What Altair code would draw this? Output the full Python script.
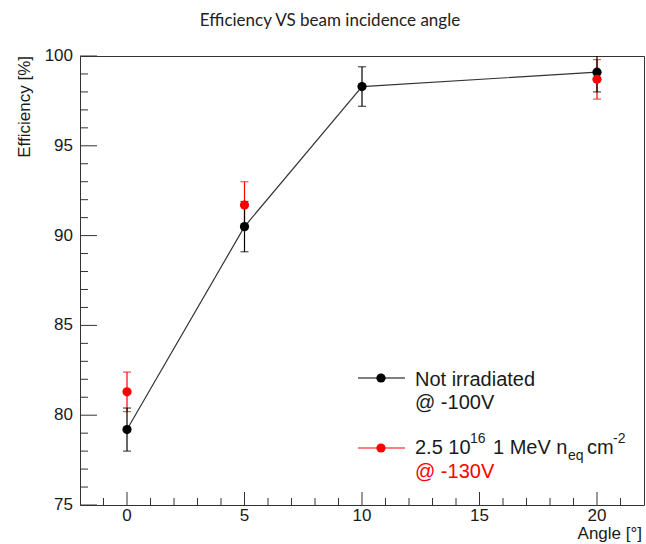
import altair as alt
import pandas as pd

# ---- data ----
angle_black = [0, 5, 10, 20]
eff_black = [79.2, 90.5, 98.3, 99.1]
lo_black = [78.0, 89.1, 97.2, 98.0]
hi_black = [80.4, 91.9, 99.4, 100.2]

angle_red = [0, 5, 20]
eff_red = [81.3, 91.7, 98.7]
lo_red = [80.2, 90.4, 97.6]
hi_red = [82.4, 93.0, 99.8]

y_major = [75, 80, 85, 90, 95, 100]
y_minor = [76, 77, 78, 79, 81, 82, 83, 84, 86, 87, 88, 89, 91, 92, 93, 94, 96, 97, 98, 99]
x_major = [0, 5, 10, 15, 20]
x_minor = [-1, 1, 2, 3, 4, 6, 7, 8, 9, 11, 12, 13, 14, 16, 17, 18, 19, 21]

title_text = "Efficiency VS beam incidence angle"
x_title = "Angle [°]"
y_title = "Efficiency [%]"

W, H = 564, 449
FONT = "Liberation Sans"
AX = "#333333"
TXT = "#1a1a1a"

black = pd.DataFrame({"angle": angle_black, "eff": eff_black, "lo": lo_black, "hi": hi_black})
red = pd.DataFrame({"angle": angle_red, "eff": eff_red, "lo": lo_red, "hi": hi_red})

xs = alt.Scale(domain=[-2, 22], nice=False, zero=False)
ys = alt.Scale(domain=[75, 100], nice=False, zero=False)

X = lambda f: alt.X(f, scale=xs, axis=None)
Y = lambda f: alt.Y(f, scale=ys, axis=None)

line = alt.Chart(black).mark_line(color="#333333", strokeWidth=1.2).encode(
    x=X("angle:Q"), y=Y("eff:Q"))

def errbars(df, color):
    bar = alt.Chart(df).mark_rule(color=color, strokeWidth=1.2, clip=True).encode(
        x=X("angle:Q"), y=Y("lo:Q"), y2="hi:Q")
    cap_lo = alt.Chart(df).mark_tick(color=color, orient="horizontal", size=8, thickness=1.2, clip=True).encode(
        x=X("angle:Q"), y=Y("lo:Q"))
    cap_hi = alt.Chart(df).mark_tick(color=color, orient="horizontal", size=8, thickness=1.2, clip=True).encode(
        x=X("angle:Q"), y=Y("hi:Q"))
    return [bar, cap_lo, cap_hi]

def points(df, color):
    return alt.Chart(df).mark_circle(color=color, size=85, opacity=1).encode(
        x=X("angle:Q"), y=Y("eff:Q"))

# inner ticks
def yticks(vals, length):
    return alt.Chart(pd.DataFrame({"v": vals})).mark_rule(color=AX, strokeWidth=1).encode(
        y=Y("v:Q"), x=alt.value(0), x2=alt.value(length))

def xticks(vals, length):
    return alt.Chart(pd.DataFrame({"v": vals})).mark_rule(color=AX, strokeWidth=1).encode(
        x=X("v:Q"), y=alt.value(H), y2=alt.value(H - length))

# tick labels through the scales
ylabels = alt.Chart(pd.DataFrame({"v": y_major})).mark_text(
    font=FONT, fontSize=17, color=TXT, align="right", baseline="middle").encode(
    y=Y("v:Q"), x=alt.value(-7), text=alt.Text("v:Q", format="d"))
xlabels = alt.Chart(pd.DataFrame({"v": x_major})).mark_text(
    font=FONT, fontSize=17, color=TXT, align="center", baseline="alphabetic").encode(
    x=X("v:Q"), y=alt.value(H + 16), text=alt.Text("v:Q", format="d"))

one = pd.DataFrame({"a": [0]})

def txt(s, x, y, size=20, color=TXT, font=FONT, align="left", angle=0, baseline="alphabetic"):
    return alt.Chart(one).mark_text(text=s, font=font, fontSize=size, color=color,
                                    align=align, baseline=baseline, angle=angle).encode(
        x=alt.value(x), y=alt.value(y))

def leg_line(color, y):
    r = alt.Chart(one).mark_rule(color=color, strokeWidth=1.2).encode(
        x=alt.value(278), x2=alt.value(325), y=alt.value(y))
    p = alt.Chart(one).mark_circle(color=color, size=85, opacity=1).encode(
        x=alt.value(301), y=alt.value(y))
    return [r, p]

titles = [
    txt(title_text, 250, -30, size=17, font="Lato", align="center", color="#222"),
    txt(y_title, -55, 0, size=17, align="right", angle=270, baseline="middle"),
    txt(x_title, W - 2, H + 34, size=17, align="right"),
]

legend = (
    leg_line("black", 322)
    + [txt("Not irradiated", 335, 330), txt("@ -100V", 335, 353)]
    + leg_line("red", 392)
    + [
        txt("2.5 10", 335, 398),
        txt("16", 390, 387, size=14),
        txt("1 MeV n", 413, 398),
        txt("eq", 488, 404, size=14),
        txt("cm", 507, 398),
        txt("-2", 533, 387, size=14),
        txt("@ -130V", 335, 422, color="#ff0000"),
    ]
)

layers = (
    [yticks(y_major, 17), yticks(y_minor, 8), xticks(x_major, 13), xticks(x_minor, 7),
     ylabels, xlabels]
    + errbars(red, "#ff0000")
    + errbars(black, "#000000")
    + [line, points(black, "#000000"), points(red, "#ff0000")]
    + titles
    + legend
)

chart = alt.layer(*layers).properties(
    width=W, height=H,
    background="white",
    autosize=alt.AutoSizeParams(type="none"),
    padding={"left": 80, "top": 56, "right": 2, "bottom": 39},
).configure_view(stroke="#333333", strokeWidth=1)

chart.save("out.html", embed_options={"renderer": "svg", "actions": False})
